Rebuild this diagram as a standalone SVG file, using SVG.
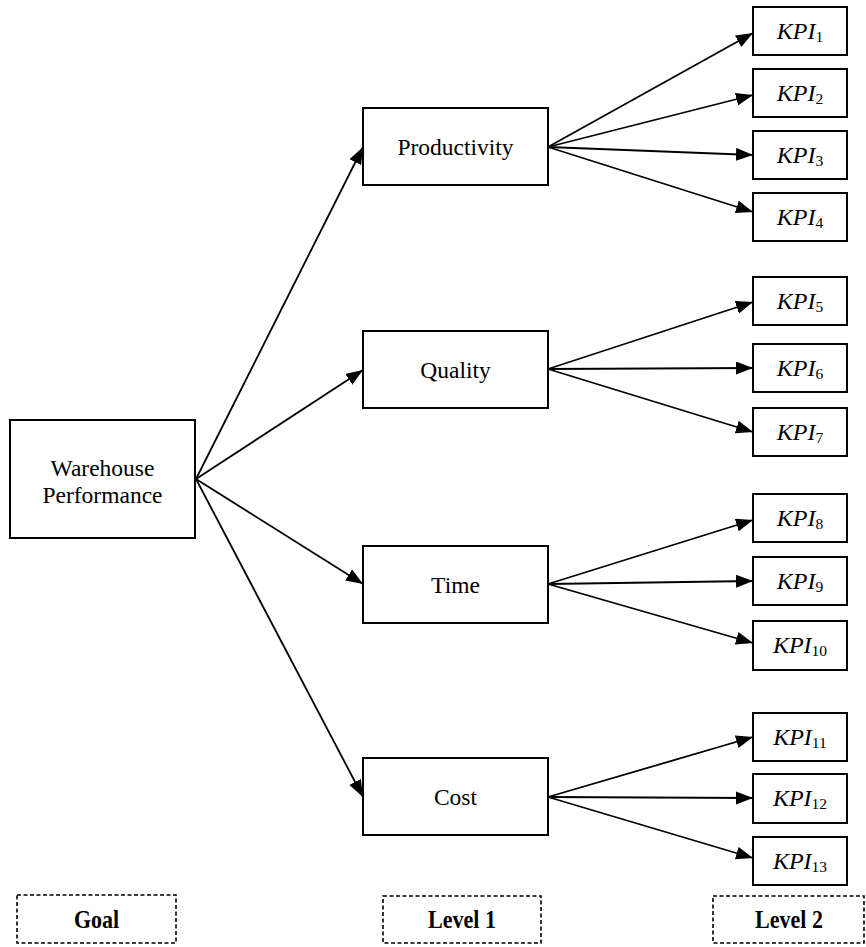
<svg xmlns="http://www.w3.org/2000/svg" width="866" height="947" viewBox="0 0 866 947">
  <style>
    .box { fill: #fff; stroke: #000; stroke-width: 2; }
    .tag { fill: #fff; stroke: #000; stroke-width: 1.6; stroke-dasharray: 4 2.5; }
    .lbl { font-family: "Liberation Serif", "Times New Roman", serif; font-size: 23.5px; fill: #000; text-anchor: middle; }
    .kpi { font-family: "Liberation Serif", "Times New Roman", serif; font-size: 24px; font-style: italic; fill: #000; text-anchor: middle; }
    .kpi .sub { font-style: normal; font-size: 15.5px; }
    .tagtxt { font-family: "Liberation Serif", "Times New Roman", serif; font-weight: bold; font-size: 25px; fill: #000; text-anchor: middle; }
    .edge { stroke: #000; stroke-width: 1.8; fill: none; marker-end: url(#arrow); }
  </style>
  <defs>
    <marker id="arrow" markerUnits="userSpaceOnUse" markerWidth="18" markerHeight="14" refX="17" refY="6.5" orient="auto">
      <path d="M0,0 L17,6.5 L0,13 z" fill="#000"/>
    </marker>
  </defs>

  <!-- connectors -->
  <g id="connectors">
    <line class="edge" x1="196" y1="479" x2="363" y2="147"/>
    <line class="edge" x1="196" y1="479" x2="363" y2="370"/>
    <line class="edge" x1="196" y1="479" x2="363" y2="584"/>
    <line class="edge" x1="196" y1="479" x2="363" y2="797"/>

    <line class="edge" x1="548" y1="147" x2="753" y2="33"/>
    <line class="edge" x1="548" y1="147" x2="753" y2="95"/>
    <line class="edge" x1="548" y1="147" x2="753" y2="155"/>
    <line class="edge" x1="548" y1="147" x2="753" y2="212"/>

    <line class="edge" x1="548" y1="369" x2="753" y2="302"/>
    <line class="edge" x1="548" y1="369" x2="753" y2="368"/>
    <line class="edge" x1="548" y1="369" x2="753" y2="432"/>

    <line class="edge" x1="548" y1="584" x2="753" y2="520"/>
    <line class="edge" x1="548" y1="584" x2="753" y2="581"/>
    <line class="edge" x1="548" y1="584" x2="753" y2="643"/>

    <line class="edge" x1="548" y1="797" x2="753" y2="737"/>
    <line class="edge" x1="548" y1="797" x2="753" y2="798"/>
    <line class="edge" x1="548" y1="797" x2="753" y2="858"/>
  </g>

  <!-- goal -->
  <g id="goal">
    <rect class="box" x="10" y="420" width="185" height="118"/>
    <text class="lbl" x="102.5" y="476">Warehouse</text>
    <text class="lbl" x="102.5" y="503">Performance</text>
  </g>

  <!-- level 1 criteria -->
  <g id="productivity">
    <rect class="box" x="363" y="108" width="185" height="77"/>
    <text class="lbl" x="455.5" y="155">Productivity</text>
  </g>
  <g id="quality">
    <rect class="box" x="363" y="331" width="185" height="77"/>
    <text class="lbl" x="455.5" y="378">Quality</text>
  </g>
  <g id="time">
    <rect class="box" x="363" y="546" width="185" height="77"/>
    <text class="lbl" x="455.5" y="593">Time</text>
  </g>
  <g id="cost">
    <rect class="box" x="363" y="758" width="185" height="77"/>
    <text class="lbl" x="455.5" y="805">Cost</text>
  </g>

  <!-- level 2 indicators -->
  <g id="kpi1"><rect class="box" x="753" y="7" width="94" height="48"/><text class="kpi" x="800" y="39">KPI<tspan class="sub" dy="3">1</tspan></text></g>
  <g id="kpi2"><rect class="box" x="753" y="69" width="94" height="48"/><text class="kpi" x="800" y="101">KPI<tspan class="sub" dy="3">2</tspan></text></g>
  <g id="kpi3"><rect class="box" x="753" y="131" width="94" height="48"/><text class="kpi" x="800" y="163">KPI<tspan class="sub" dy="3">3</tspan></text></g>
  <g id="kpi4"><rect class="box" x="753" y="193" width="94" height="48"/><text class="kpi" x="800" y="225">KPI<tspan class="sub" dy="3">4</tspan></text></g>
  <g id="kpi5"><rect class="box" x="753" y="277" width="94" height="48"/><text class="kpi" x="800" y="309">KPI<tspan class="sub" dy="3">5</tspan></text></g>
  <g id="kpi6"><rect class="box" x="753" y="344" width="94" height="48"/><text class="kpi" x="800" y="376">KPI<tspan class="sub" dy="3">6</tspan></text></g>
  <g id="kpi7"><rect class="box" x="753" y="408" width="94" height="48"/><text class="kpi" x="800" y="440">KPI<tspan class="sub" dy="3">7</tspan></text></g>
  <g id="kpi8"><rect class="box" x="753" y="494" width="94" height="48"/><text class="kpi" x="800" y="526">KPI<tspan class="sub" dy="3">8</tspan></text></g>
  <g id="kpi9"><rect class="box" x="753" y="557" width="94" height="48"/><text class="kpi" x="800" y="589">KPI<tspan class="sub" dy="3">9</tspan></text></g>
  <g id="kpi10"><rect class="box" x="753" y="621" width="94" height="49"/><text class="kpi" x="800" y="653">KPI<tspan class="sub" dy="3">10</tspan></text></g>
  <g id="kpi11"><rect class="box" x="753" y="713" width="94" height="48"/><text class="kpi" x="800" y="745">KPI<tspan class="sub" dy="3">11</tspan></text></g>
  <g id="kpi12"><rect class="box" x="753" y="774" width="94" height="49"/><text class="kpi" x="800" y="806">KPI<tspan class="sub" dy="3">12</tspan></text></g>
  <g id="kpi13"><rect class="box" x="753" y="837" width="94" height="48"/><text class="kpi" x="800" y="869">KPI<tspan class="sub" dy="3">13</tspan></text></g>

  <!-- hierarchy level tags -->
  <g id="tag-goal">
    <rect class="tag" x="17" y="895" width="159" height="48"/>
    <text class="tagtxt" transform="translate(96.5 928) scale(0.88 1)">Goal</text>
  </g>
  <g id="tag-level1">
    <rect class="tag" x="383" y="896" width="158" height="47"/>
    <text class="tagtxt" transform="translate(462 928) scale(0.88 1)">Level 1</text>
  </g>
  <g id="tag-level2">
    <rect class="tag" x="713" y="896" width="151" height="47"/>
    <text class="tagtxt" transform="translate(789 928) scale(0.88 1)">Level 2</text>
  </g>
</svg>
